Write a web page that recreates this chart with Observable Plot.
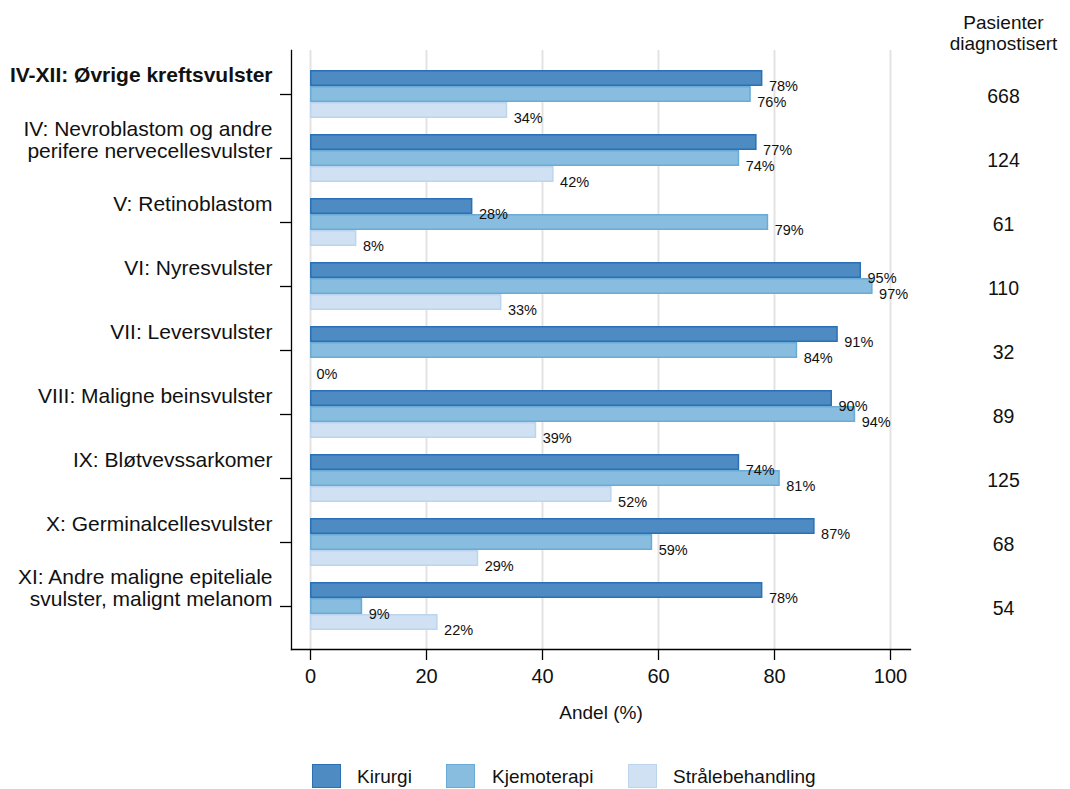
<!DOCTYPE html>
<html>
<head>
<meta charset="utf-8">
<script src="https://cdn.jsdelivr.net/npm/d3@7"></script>
<script src="https://cdn.jsdelivr.net/npm/@observablehq/plot@0.6"></script>
<style>
  body { margin: 0; background: white; font-family: "Liberation Sans", Arial, Helvetica, sans-serif; }
  #wrap { position: relative; width: 1070px; height: 789px; }
  #legend { position: absolute; top: 764px; left: 0; width: 1070px; height: 24px; }
  .sw { position: absolute; top: 0; width: 27px; height: 22px; border: 1.5px solid; }
  .lb { position: absolute; top: 0; height: 25px; line-height: 25px; font-size: 19px; color: #111; }
</style>
</head>
<body>
<div id="wrap"><div id="chart"></div><div id="legend"></div></div>
<script>
const categories = [
  "IV-XII: Øvrige kreftsvulster",
  "IV: Nevroblastom og andre\nperifere nervecellesvulster",
  "V: Retinoblastom",
  "VI: Nyresvulster",
  "VII: Leversvulster",
  "VIII: Maligne beinsvulster",
  "IX: Bløtvevssarkomer",
  "X: Germinalcellesvulster",
  "XI: Andre maligne epiteliale\nsvulster, malignt melanom"
];
const kirurgi     = [78, 77, 28, 95, 91, 90, 74, 87, 78];
const kjemoterapi = [76, 74, 79, 97, 84, 94, 81, 59, 9];
const straale     = [34, 42, 8, 33, 0, 39, 52, 29, 22];
const pasienter   = [668, 124, 61, 110, 32, 89, 125, 68, 54];
const xTicks = [0, 20, 40, 60, 80, 100];
const seriesNames = ["Kirurgi", "Kjemoterapi", "Strålebehandling"];
const fills   = ["#4f8bc3", "#88bddf", "#cfe1f2"];
const strokes = ["#2b6fb4", "#6aaad7", "#bcd5ee"];

const rows = categories.map((c, i) => ({cat: c, kir: kirurgi[i], kje: kjemoterapi[i], str: straale[i], n: pasienter[i], bold: i === 0}));
const keys = ["kir", "kje", "str"];
const offsets = [-16, 0, 16];

const marks = [
  Plot.ruleX(xTicks, {stroke: "#e3e3e3", strokeWidth: 2}),
];
keys.forEach((k, j) => {
  marks.push(Plot.barX(rows.filter(r => r[k] > 0), {y: "cat", x: k, dy: offsets[j], fill: fills[j], stroke: strokes[j], strokeWidth: 1.5, inset: 0.75}));
});
keys.forEach((k, j) => {
  marks.push(Plot.text(rows, {y: "cat", x: k, text: d => d[k] + "%", dy: offsets[j] + 8, dx: 6, textAnchor: "start", fontSize: 14.5, fill: "#111"}));
});
marks.push(
  Plot.frame({anchor: "left", stroke: "black", strokeWidth: 1.3}),
  Plot.frame({anchor: "bottom", stroke: "black", strokeWidth: 1.3}),
  Plot.axisY({tickSize: 11, tickFormat: () => "", label: null, stroke: "black", strokeWidth: 1.3}),
  Plot.axisX({ticks: xTicks, tickSize: 11, tickPadding: 8, fontSize: 20, label: null, stroke: "black", strokeWidth: 1.3, fill: "#111"}),
  Plot.text(rows.filter(r => !r.bold), {y: "cat", text: "cat", frameAnchor: "left", dx: -19, dy: -19, textAnchor: "end", lineAnchor: "middle", fontSize: 21, lineHeight: 1.05, fill: "#111"}),
  Plot.text(rows.filter(r => r.bold), {y: "cat", text: "cat", frameAnchor: "left", dx: -19, dy: -19, textAnchor: "end", lineAnchor: "middle", fontSize: 21, fontWeight: "bold", fill: "#111"}),
  Plot.text(rows, {y: "cat", text: d => String(d.n), frameAnchor: "right", dx: 93, dy: 2, textAnchor: "middle", lineAnchor: "middle", fontSize: 19.5, fill: "#111"}),
  Plot.text(["Pasienter\ndiagnostisert"], {text: d => d, frameAnchor: "top-right", dx: 93, dy: -18, textAnchor: "middle", lineAnchor: "middle", fontSize: 19, lineHeight: 1.15, fill: "#111"}),
  Plot.text(["Andel (%)"], {text: d => d, frameAnchor: "bottom", dy: 63, lineAnchor: "middle", fontSize: 19, fill: "#111"})
);

const chart = Plot.plot({
  width: 1070,
  height: 750,
  marginLeft: 291,
  marginRight: 160,
  marginTop: 50,
  marginBottom: 101,
  style: {fontFamily: '"Liberation Sans", Arial, Helvetica, sans-serif', background: "white", overflow: "visible"},
  x: {domain: [0, 100], insetLeft: 19, insetRight: 20},
  y: {domain: categories, paddingInner: 0.75, paddingOuter: 0.375, insetTop: 11, insetBottom: 10},
  marks
});
document.getElementById("chart").appendChild(chart);

const legendPos = [[312, 357], [446, 492], [628, 673]];
const legend = document.getElementById("legend");
seriesNames.forEach((name, j) => {
  const sw = document.createElement("div");
  sw.className = "sw";
  sw.style.left = legendPos[j][0] + "px";
  sw.style.background = fills[j];
  sw.style.borderColor = strokes[j];
  legend.appendChild(sw);
  const lb = document.createElement("div");
  lb.className = "lb";
  lb.style.left = legendPos[j][1] + "px";
  lb.textContent = name;
  legend.appendChild(lb);
});
</script>
</body>
</html>
